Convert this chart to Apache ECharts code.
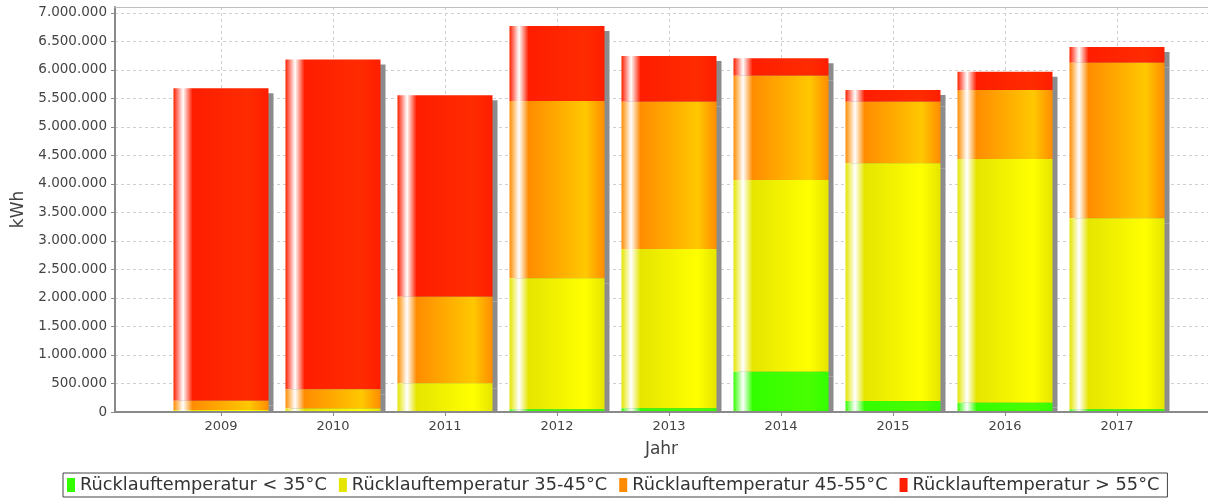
<!DOCTYPE html>
<html>
<head>
<meta charset="utf-8">
<script src="https://cdn.jsdelivr.net/npm/echarts@6/dist/echarts.min.js"></script>
<style>
  html, body { margin: 0; padding: 0; background: #ffffff; }
  #chart { width: 1208px; height: 499px; }
</style>
</head>
<body>
<div id="chart"></div>
<script>
// Jahre (Kategorien)
const years = ['2009', '2010', '2011', '2012', '2013', '2014', '2015', '2016', '2017'];

// Wärmemenge je Rücklauftemperaturbereich in kWh
const below35    = [3000, 8000, 5000, 50000, 65000, 707000, 193000, 164000, 47000];
const from35to45 = [30000, 55000, 498000, 2295000, 2795000, 3363000, 4170000, 4275000, 3351000];
const from45to55 = [165000, 335000, 1520000, 3111000, 2584000, 1830000, 1081000, 1210000, 2731000];
const above55    = [5482000, 5786000, 3533000, 1316000, 802000, 305000, 205000, 322000, 275000];

const seriesNames = [
  'Rücklauftemperatur < 35°C',
  'Rücklauftemperatur 35-45°C',
  'Rücklauftemperatur 45-55°C',
  'Rücklauftemperatur > 55°C'
];

// y-Achse
const yMin = 0;
const yStep = 500000;
const yMax = 7105000;

const FONT = 'DejaVu Sans';

// Grundfarbe und aufgehellte Farbe je Bereich
const baseColors   = ['#33ff00', '#e5e500', '#ff8c00', '#ff1e00'];
const brightColors = ['#48ff00', '#ffff00', '#ffc800', '#ff2b00'];
const seriesValues = [below35, from35to45, from45to55, above55];

function barFill(c0, c1) {
  return new echarts.graphic.LinearGradient(0, 0, 1, 0, [
    { offset: 0, color: c0 },
    { offset: 0.1, color: '#ffffff' },
    { offset: 0.2, color: c0 },
    { offset: 0.8, color: c1 },
    { offset: 1, color: c0 }
  ]);
}

function germanNumber(v) {
  return String(Math.round(v)).replace(/\B(?=(\d{3})+(?!\d))/g, '.');
}

const chart = echarts.init(document.getElementById('chart'), null, { renderer: 'canvas' });

const series = seriesValues.map((vals, i) => ({
  name: seriesNames[i],
  type: 'bar',
  stack: 'total',
  xAxisIndex: 2,
  yAxisIndex: 1,
  barWidth: 95,
  clip: false,
  z: 6 - i,
  data: vals,
  itemStyle: {
    color: barFill(baseColors[i], brightColors[i]),
    shadowColor: '#8c8c8c',
    shadowBlur: 0,
    shadowOffsetX: 5,
    shadowOffsetY: 5
  },
  emphasis: { disabled: true }
}));

const gridLineStyle = { color: '#cfcfcf', type: [3, 3], width: 1 };

const option = {
  animation: false,
  backgroundColor: '#ffffff',
  grid: [
    { left: 115, right: 0, top: 7, bottom: 87, containLabel: false },
    { left: 221, right: 91, top: 7, bottom: 87, containLabel: false }
  ],
  xAxis: [
    {
      // untere Achsenlinie und Achsentitel
      gridIndex: 0, type: 'value', min: 0, max: 1, position: 'bottom',
      axisLine: { show: true, lineStyle: { color: '#8a8a8a', width: 2 } },
      axisTick: { show: false }, axisLabel: { show: false }, splitLine: { show: false },
      name: 'Jahr', nameLocation: 'middle', nameGap: 29,
      nameTextStyle: { fontFamily: FONT, fontSize: 17, color: '#444444' },
      z: 120
    },
    {
      // obere Rahmenlinie
      gridIndex: 0, type: 'value', min: 0, max: 1, position: 'top',
      axisLine: { show: true, lineStyle: { color: '#bdbdbd', width: 1 } },
      axisTick: { show: false }, axisLabel: { show: false }, splitLine: { show: false }
    },
    {
      // Kategorien mit senkrechten Gitterlinien (hinter den Balken)
      gridIndex: 1, type: 'category', data: years, boundaryGap: false, position: 'bottom',
      axisLine: { show: false },
      axisTick: { show: false },
      axisLabel: { fontFamily: FONT, fontSize: 13, color: '#444444', margin: 8 },
      splitLine: { show: true, lineStyle: gridLineStyle },
      z: 0
    },
    {
      // Teilstriche der Kategorieachse (über der Abdeckung)
      gridIndex: 1, type: 'category', data: years, boundaryGap: false, position: 'bottom',
      axisLine: { show: false },
      axisTick: { show: true, length: 4, lineStyle: { color: '#8a8a8a' } },
      axisLabel: { show: false },
      splitLine: { show: false },
      z: 110
    }
  ],
  yAxis: [
    {
      gridIndex: 0, type: 'value', min: yMin, max: yMax, interval: yStep,
      axisLine: { show: true, lineStyle: { color: '#8a8a8a', width: 2 } },
      axisTick: { show: true, length: 4, lineStyle: { color: '#8a8a8a' } },
      axisLabel: {
        fontFamily: FONT, fontSize: 13.5, color: '#444444', margin: 8,
        showMaxLabel: false, formatter: germanNumber
      },
      splitLine: { show: true, lineStyle: gridLineStyle },
      name: 'kWh', nameLocation: 'middle', nameGap: 88, nameRotate: 90,
      nameTextStyle: { fontFamily: FONT, fontSize: 17, color: '#444444' }
    },
    {
      gridIndex: 1, type: 'value', min: yMin, max: yMax, interval: yStep, show: false
    }
  ],
  legend: {
    left: 63, top: 473,
    orient: 'horizontal',
    icon: 'rect',
    itemWidth: 8, itemHeight: 14, itemGap: 12,
    padding: [3, 8, 3, 4],
    borderColor: '#444444', borderWidth: 1,
    textStyle: { fontFamily: FONT, fontSize: 17.75, color: '#333333' },
    data: seriesNames.map((n, i) => ({
      name: n,
      itemStyle: { color: baseColors[i], shadowColor: 'rgba(0,0,0,0)', shadowOffsetX: 0, shadowOffsetY: 0 }
    }))
  },
  graphic: [
    {
      // deckt Schatten unterhalb der Achse ab
      type: 'rect', z: 100,
      shape: { x: 115, y: 413, width: 1093, height: 6 },
      style: { fill: '#ffffff' },
      silent: true
    }
  ],
  series: series
};

chart.setOption(option);
</script>
</body>
</html>
